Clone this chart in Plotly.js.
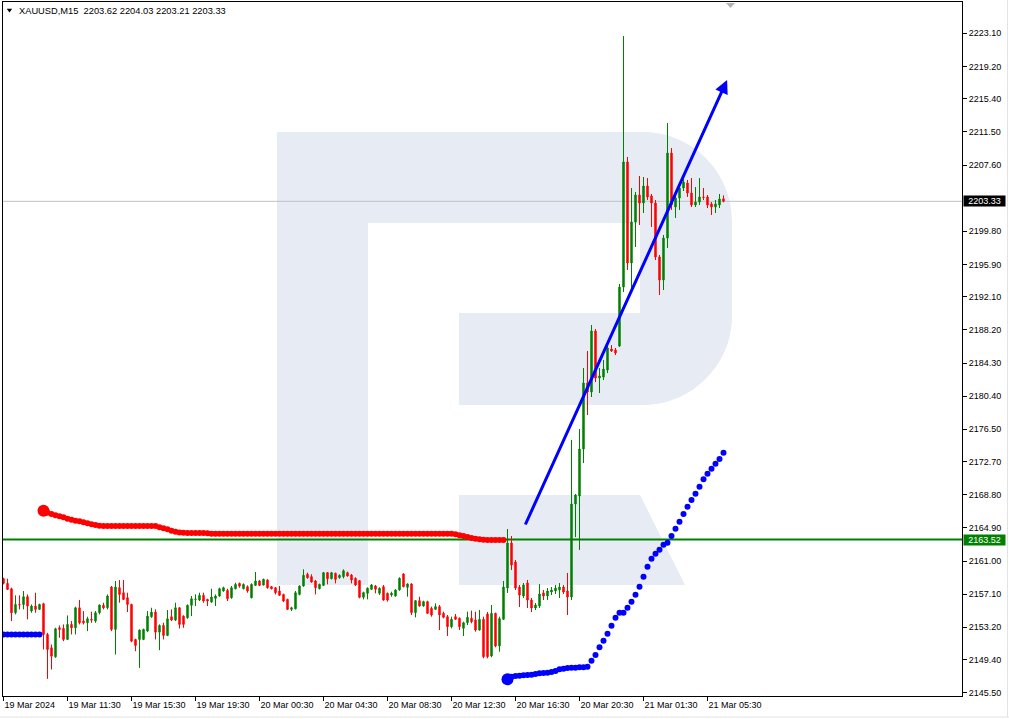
<!DOCTYPE html>
<html>
<head>
<meta charset="utf-8">
<script src="https://cdn.plot.ly/plotly-3.0.1.min.js"></script>
<style>html,body{margin:0;padding:0;background:#fff;}#chart{width:1009px;height:719px;}</style>
</head>
<body>
<div id="chart"></div>
<script>
// ---------- data ----------
const symbolName = "XAUUSD,M15";

const barOpen = [2158.92,2158.37,2157.74,2154.91,2155.89,2155.89,2156.80,2155.11,2155.70,2155.31,
2155.97,2152.36,2150.79,2149.72,2153.14,2153.06,2151.77,2153.54,2153.14,2155.50,
2153.93,2153.73,2154.13,2153.93,2154.91,2155.78,2155.50,2157.94,2152.95,2157.86,
2157.27,2156.68,2155.89,2151.77,2151.77,2151.77,2152.75,2154.44,2154.99,2152.63,
2153.42,2152.24,2154.44,2154.05,2155.50,2154.52,2154.32,2155.78,2156.48,2156.41,
2156.96,2156.48,2156.17,2156.60,2156.88,2157.47,2157.55,2156.68,2157.74,2158.37,
2157.74,2157.98,2156.68,2158.13,2158.65,2158.17,2158.76,2157.98,2157.86,2157.47,
2157.07,2156.48,2155.31,2155.38,2157.07,2158.06,2159.43,2159.16,2158.65,2157.74,
2158.13,2159.63,2158.92,2159.55,2159.04,2159.16,2159.63,2159.35,2158.96,2158.69,
2156.73,2157.20,2157.67,2158.06,2157.20,2157.98,2157.20,2157.00,2156.88,2157.59,
2159.47,2157.90,2158.30,2154.92,2156.33,2155.71,2156.22,2155.43,2155.31,2155.63,
2154.84,2154.45,2153.27,2154.45,2154.26,2153.08,2153.74,2154.26,2154.06,2152.88,
2154.14,2154.76,2149.82,2154.84,2151.00,2154.14,2157.82,2163.12,2160.88,2157.94,
2156.88,2158.41,2156.41,2155.47,2155.71,2157.24,2156.88,2157.35,2157.47,2157.59,
2157.94,2157.47,2156.76,2167.71,2168.65,2174.18,2181.95,2180.89,2188.07,2182.54,
2182.65,2183.48,2185.95,2185.83,2186.30,2193.24,2207.96,2196.07,2200.89,2204.07,
2203.13,2205.13,2203.95,2203.13,2196.78,2194.07,2199.01,2209.01,2202.66,2203.72,
2204.90,2205.48,2204.31,2202.90,2203.25,2203.84,2203.84,2203.02,2202.66,2202.90,
2203.62];

const barHigh = [2159.04,2158.92,2157.86,2156.96,2156.96,2157.47,2157.07,2155.89,2157.27,2155.97,
2156.09,2152.55,2151.18,2153.14,2153.42,2153.54,2154.60,2153.93,2155.62,2156.41,
2155.11,2154.44,2155.03,2155.11,2155.89,2156.09,2157.07,2158.06,2158.65,2158.76,
2158.76,2157.27,2155.97,2151.85,2152.95,2153.03,2155.11,2155.50,2155.31,2153.54,
2153.73,2155.23,2155.31,2156.09,2155.58,2154.60,2155.89,2156.88,2157.07,2157.27,
2157.27,2156.56,2157.74,2157.07,2157.86,2157.98,2157.74,2158.06,2158.45,2158.45,
2158.37,2158.13,2158.37,2159.71,2158.76,2158.92,2158.84,2158.06,2157.94,2158.06,
2157.15,2156.56,2155.62,2157.47,2158.13,2160.02,2159.63,2159.43,2158.76,2158.33,
2159.71,2159.71,2159.71,2159.63,2159.43,2160.02,2159.75,2159.47,2159.08,2158.77,
2157.39,2157.90,2158.30,2158.18,2157.90,2158.18,2157.28,2157.39,2157.67,2159.08,
2159.55,2158.37,2158.37,2156.41,2156.80,2156.33,2156.33,2155.63,2156.02,2155.82,
2155.04,2154.65,2154.45,2154.76,2154.37,2153.86,2155.04,2155.16,2155.04,2155.24,
2154.45,2155.00,2155.82,2154.92,2154.45,2158.65,2164.77,2163.94,2161.12,2158.18,
2158.41,2158.77,2156.65,2156.06,2158.29,2157.59,2157.82,2157.94,2158.18,2158.41,
2158.18,2159.59,2175.24,2168.89,2176.53,2183.71,2185.71,2188.77,2188.30,2183.71,
2184.66,2186.42,2186.42,2186.07,2193.60,2222.78,2208.55,2204.90,2204.43,2206.31,
2206.19,2206.07,2204.19,2203.48,2197.01,2199.37,2212.55,2209.60,2204.07,2205.48,
2206.07,2205.84,2206.07,2205.01,2206.07,2204.90,2204.07,2203.25,2203.48,2204.19,
2204.03];

const barLow = [2158.25,2157.58,2153.93,2154.72,2155.31,2155.31,2154.13,2154.91,2154.91,2155.23,
2150.59,2147.13,2148.23,2149.61,2151.97,2151.57,2151.69,2152.36,2152.36,2153.54,
2153.54,2152.75,2153.73,2153.73,2154.72,2155.31,2155.31,2152.75,2150.00,2156.09,
2156.41,2154.99,2151.45,2150.39,2148.43,2151.69,2152.63,2154.32,2151.77,2150.51,
2151.77,2152.16,2153.93,2153.93,2153.06,2153.14,2154.20,2154.52,2155.70,2156.29,
2156.09,2155.70,2156.09,2155.70,2156.80,2157.39,2156.29,2156.56,2157.66,2157.86,
2157.66,2157.27,2156.60,2158.06,2158.06,2158.13,2157.74,2157.66,2157.07,2156.88,
2156.17,2155.23,2155.11,2155.31,2156.96,2157.98,2158.92,2158.45,2157.07,2157.66,
2158.06,2158.25,2158.84,2158.37,2158.92,2158.96,2159.16,2158.37,2158.06,2156.61,
2156.49,2156.49,2157.59,2157.20,2157.00,2156.33,2156.22,2156.80,2156.80,2157.51,
2157.90,2156.80,2154.65,2154.37,2155.63,2155.63,2154.76,2154.45,2155.24,2152.88,
2154.26,2152.18,2153.08,2154.06,2152.88,2152.18,2153.47,2153.67,2152.69,2152.80,
2149.55,2149.55,2149.67,2150.84,2150.33,2154.06,2157.24,2159.94,2157.59,2155.59,
2156.65,2155.47,2155.00,2155.23,2155.47,2156.41,2156.41,2157.00,2157.12,2156.65,
2157.12,2154.65,2156.41,2163.82,2162.30,2172.53,2178.18,2180.30,2182.06,2180.77,
2182.30,2183.12,2185.60,2185.24,2186.18,2192.66,2195.25,2192.89,2197.95,2200.54,
2201.95,2203.48,2200.31,2196.42,2192.30,2192.89,2197.84,2202.31,2201.37,2202.31,
2204.54,2203.84,2202.66,2202.66,2202.90,2203.48,2202.54,2201.72,2201.95,2202.54,
2203.21];

const barClose = [2158.37,2157.66,2154.91,2155.89,2155.85,2156.80,2155.70,2155.70,2155.31,2155.89,
2152.36,2150.59,2149.80,2153.03,2152.95,2151.77,2153.54,2153.14,2155.50,2153.73,
2153.73,2154.20,2154.05,2154.91,2155.82,2155.50,2156.88,2152.95,2157.94,2157.07,
2156.48,2155.89,2151.57,2151.06,2152.87,2152.95,2154.52,2154.99,2152.63,2153.42,
2152.24,2154.20,2154.05,2155.50,2153.54,2153.54,2155.78,2156.56,2156.52,2156.96,
2156.29,2156.29,2156.76,2156.88,2157.74,2157.86,2156.56,2157.86,2158.25,2158.06,
2158.25,2157.47,2158.25,2158.65,2158.13,2158.84,2157.86,2157.74,2157.27,2156.96,
2156.29,2155.31,2155.50,2157.27,2158.06,2159.31,2159.04,2158.53,2157.86,2158.25,
2159.63,2158.92,2159.63,2158.84,2159.31,2159.86,2159.24,2158.77,2158.18,2156.73,
2157.28,2157.79,2158.18,2157.67,2157.79,2156.41,2156.41,2157.20,2157.59,2158.96,
2157.98,2158.30,2154.92,2156.33,2155.71,2156.22,2154.84,2154.65,2155.63,2154.65,
2154.37,2153.27,2154.14,2154.14,2153.27,2153.74,2154.37,2153.86,2152.88,2154.14,
2149.74,2149.74,2154.84,2151.00,2154.22,2157.94,2163.12,2160.53,2157.82,2157.00,
2158.18,2156.41,2155.47,2155.82,2157.12,2156.88,2157.47,2157.59,2157.82,2157.94,
2157.35,2156.76,2167.71,2168.77,2174.18,2181.95,2180.89,2188.07,2182.54,2182.77,
2183.59,2186.07,2185.71,2185.48,2193.24,2207.96,2196.07,2200.89,2204.07,2203.13,
2205.13,2203.84,2203.13,2196.78,2194.07,2199.01,2209.01,2202.90,2203.72,2204.90,
2205.60,2204.31,2202.90,2203.25,2203.84,2203.80,2202.90,2202.66,2203.02,2203.60,
2203.33];

// indicator dots (red: resistance trail, blue: support trail)
const redStartBar = 10;
const redDots = [2166.92,2166.69,2166.53,2166.38,2166.26,2166.14,2165.98,2165.87,2165.75,2165.67,
2165.55,2165.43,2165.32,2165.24,2165.16,2165.12,2165.12,2165.12,2165.12,2165.12,
2165.12,2165.12,2165.12,2165.12,2165.12,2165.12,2165.12,2165.12,2165.12,2164.96,
2164.85,2164.73,2164.57,2164.45,2164.37,2164.34,2164.30,2164.30,2164.30,2164.30,
2164.30,2164.26,2164.22,2164.22,2164.22,2164.22,2164.22,2164.22,2164.22,2164.22,
2164.22,2164.22,2164.22,2164.22,2164.22,2164.22,2164.22,2164.22,2164.22,2164.22,
2164.22,2164.22,2164.22,2164.22,2164.22,2164.22,2164.22,2164.22,2164.22,2164.22,
2164.22,2164.22,2164.22,2164.22,2164.22,2164.22,2164.22,2164.22,2164.22,2164.22,
2164.22,2164.22,2164.22,2164.22,2164.22,2164.22,2164.22,2164.22,2164.22,2164.22,
2164.22,2164.22,2164.22,2164.22,2164.22,2164.22,2164.22,2164.22,2164.22,2164.22,
2164.22,2164.22,2164.22,2164.14,2164.02,2163.94,2163.83,2163.71,2163.63,2163.55,
2163.51,2163.47,2163.47,2163.47,2163.47,2163.47];
const blueLeftStartBar = 0;
const blueDotsLeft = [2152.35,2152.35,2152.35,2152.35,2152.35,2152.35,2152.35,2152.35,2152.35,2152.35];
const blueRightStartBar = 126;
const blueDotsRight = [2147.08,2147.39,2147.47,2147.51,2147.55,2147.59,2147.63,2147.70,2147.78,2147.82,
2147.86,2147.94,2148.05,2148.25,2148.33,2148.41,2148.45,2148.45,2148.49,2148.49,
2148.57,2149.27,2149.94,2150.84,2151.62,2152.45,2153.39,2154.33,2154.92,2154.92,
2155.51,2156.22,2157.04,2157.98,2159.16,2160.33,2161.28,2161.86,2162.33,2162.92,
2163.16,2163.94,2164.80,2165.63,2166.53,2167.39,2168.18,2168.92,2169.75,2170.62,
2171.28,2171.86,2172.45,2173.00,2173.75];

const levelPrice = 2163.52;
const trendFrom = {bar: 130.3, price: 2165.12};
const trendTo   = {bar: 180.9, price: 2217.61};

const xTickBars   = [0,16,32,48,64,80,96,112,128,144,160,176];
const xTickLabels = ["19 Mar 2024","19 Mar 11:30","19 Mar 15:30","19 Mar 19:30","20 Mar 00:30","20 Mar 04:30",
                     "20 Mar 08:30","20 Mar 12:30","20 Mar 16:30","20 Mar 20:30","21 Mar 01:30","21 Mar 05:30"];
// the 2203.70 tick sits under the current-price label and is hidden in the reference
const yTickValues = [2223.10,2219.20,2215.40,2211.50,2207.60,2199.80,2195.90,2192.10,2188.20,2184.30,
                     2180.40,2176.50,2172.70,2168.80,2164.90,2161.00,2157.10,2153.20,2149.40,2145.50];

// ---------- layout helpers ----------
const W = 1009, H = 719;
const M = {l: 3, r: 47, t: 2, b: 23};
const PW = W - M.l - M.r, PH = H - M.t - M.b;
const fx = p => (p - M.l) / PW;
const fy = p => (M.t + PH - p) / PH;
const pxPath = s => s.replace(/(-?[\d.]+),(-?[\d.]+)/g, (m, a, b) => fx(+a).toFixed(5) + ',' + fy(+b).toFixed(5));
const X0 = -0.125; // half-pixel offset so 1px wicks land on whole pixels

const barIdx = barOpen.map((v, i) => i);
const lastClose = barClose[barClose.length - 1];
const last = barClose.length - 1;
const FONT = 'Liberation Sans, Arial, sans-serif';

const traces = [
  {
    type: 'candlestick', x: barIdx, open: barOpen, high: barHigh, low: barLow, close: barClose,
    increasing: {line: {color: '#008000', width: 1}, fillcolor: '#008000'},
    decreasing: {line: {color: '#ff0000', width: 1}, fillcolor: '#ff0000'},
    whiskerwidth: 0, hoverinfo: 'skip', showlegend: false
  },
  {
    type: 'scatter', mode: 'markers', x: redDots.map((v, i) => redStartBar + i), y: redDots,
    marker: {color: '#ff0000', size: 6, line: {width: 0}}, hoverinfo: 'skip'
  },
  {
    type: 'scatter', mode: 'markers', x: [redStartBar], y: [redDots[0]],
    marker: {color: '#ff0000', size: 12, line: {width: 0}}, hoverinfo: 'skip'
  },
  {
    type: 'scatter', mode: 'markers', x: blueDotsLeft.map((v, i) => blueLeftStartBar + i), y: blueDotsLeft,
    marker: {color: '#0000ff', size: 6, line: {width: 0}}, hoverinfo: 'skip'
  },
  {
    type: 'scatter', mode: 'markers', x: blueDotsRight.map((v, i) => blueRightStartBar + i), y: blueDotsRight,
    marker: {color: '#0000ff', size: 6, line: {width: 0}}, hoverinfo: 'skip'
  },
  {
    type: 'scatter', mode: 'markers', x: [blueRightStartBar], y: [blueDotsRight[0]],
    marker: {color: '#0000ff', size: 12, line: {width: 0}}, hoverinfo: 'skip'
  }
];

const wmColor = '#e6ebf4';
const shapes = [
  {type: 'path', xref: 'paper', yref: 'paper', layer: 'below', fillcolor: wmColor, line: {width: 0},
   path: pxPath('M277,132 L643,132 C692,132 732,172 732,221 L732,316 C732,365 692,405 643,405 L459,405 L459,313 L640,313 L640,223 L368,223 L368,585 L277,585 Z')},
  {type: 'path', xref: 'paper', yref: 'paper', layer: 'below', fillcolor: wmColor, line: {width: 0},
   path: pxPath('M459,495 L640,495 L685,585 L459,585 Z')},
  {type: 'line', xref: 'paper', yref: 'y', x0: 0, x1: 1, y0: lastClose, y1: lastClose, layer: 'below',
   line: {color: '#c0c0c0', width: 1}},
  {type: 'line', xref: 'paper', yref: 'y', x0: 0, x1: 1, y0: levelPrice, y1: levelPrice, layer: 'below',
   line: {color: '#008000', width: 2}},
  {type: 'path', xref: 'paper', yref: 'paper', fillcolor: '#000000', line: {width: 0},
   path: pxPath('M6.7,8.7 L12.2,8.7 L9.45,12.5 Z')},
  {type: 'path', xref: 'paper', yref: 'paper', fillcolor: '#b4b4b4', line: {width: 0},
   path: pxPath('M726,3 L735,3 L730.5,8 Z')},
  {type: 'line', xref: 'paper', yref: 'paper', x0: fx(0), x1: fx(1009), y0: fy(717), y1: fy(717),
   line: {color: '#e3e3e3', width: 1}},
  {type: 'line', xref: 'paper', yref: 'paper', x0: fx(1007.5), x1: fx(1007.5), y0: fy(0), y1: fy(717),
   line: {color: '#e3e3e3', width: 1}}
];

const annotations = [
  {xref: 'paper', yref: 'paper', x: fx(17), y: fy(10.5), xanchor: 'left', yanchor: 'middle', showarrow: false,
   text: symbolName + '\u00a0\u00a0' + [barOpen[last], barHigh[last], barLow[last], barClose[last]].map(v => v.toFixed(2)).join(' '),
   font: {family: FONT, size: 9.3, color: '#000'}},
  {xref: 'paper', yref: 'y', x: 1, y: lastClose, xanchor: 'left', yanchor: 'middle', xshift: 1, showarrow: false,
   text: lastClose.toFixed(2), bgcolor: '#000000', width: 41, height: 10, borderpad: 0, align: 'center',
   font: {family: FONT, size: 9, color: '#ffffff'}},
  {xref: 'paper', yref: 'y', x: 1, y: levelPrice, xanchor: 'left', yanchor: 'middle', xshift: 1, showarrow: false,
   text: levelPrice.toFixed(2), bgcolor: '#008000', width: 41, height: 10, borderpad: 0, align: 'center',
   font: {family: FONT, size: 9, color: '#ffffff'}},
  {xref: 'x', yref: 'y', x: trendTo.bar, y: trendTo.price, axref: 'x', ayref: 'y', ax: trendFrom.bar, ay: trendFrom.price,
   text: '', showarrow: true, arrowhead: 2, arrowsize: 0.9, arrowwidth: 3, arrowcolor: '#0000ff', standoff: 0, startstandoff: 0}
];

const layout = {
  width: W, height: H,
  margin: {l: M.l, r: M.r, t: M.t, b: M.b, pad: 0},
  paper_bgcolor: '#ffffff', plot_bgcolor: '#ffffff',
  showlegend: false, boxgap: 0.5,
  font: {family: FONT, size: 9, color: '#000'},
  xaxis: {
    range: [X0, X0 + PW / 4], showgrid: false, zeroline: false, showline: true, linecolor: '#000', linewidth: 1, mirror: true,
    ticks: 'outside', ticklen: 4, tickcolor: '#000', tickwidth: 1,
    tickmode: 'array', tickvals: xTickBars, ticktext: xTickLabels, ticklabelposition: 'outside right',
    tickfont: {family: FONT, size: 9, color: '#000'},
    rangeslider: {visible: false}, fixedrange: true
  },
  yaxis: {
    side: 'right', range: [2227.02 - 0.11768 * (M.t + PH), 2227.02 - 0.11768 * M.t],
    showgrid: false, zeroline: false, showline: true, linecolor: '#000', linewidth: 1, mirror: true,
    ticks: 'outside', ticklen: 4, tickcolor: '#000', tickwidth: 1,
    tickmode: 'array', tickvals: yTickValues, ticktext: yTickValues.map(v => v.toFixed(2)),
    tickfont: {family: FONT, size: 9, color: '#000'}, fixedrange: true
  },
  shapes: shapes,
  annotations: annotations
};

Plotly.newPlot('chart', traces, layout, {staticPlot: true, displayModeBar: false});
</script>
</body>
</html>
